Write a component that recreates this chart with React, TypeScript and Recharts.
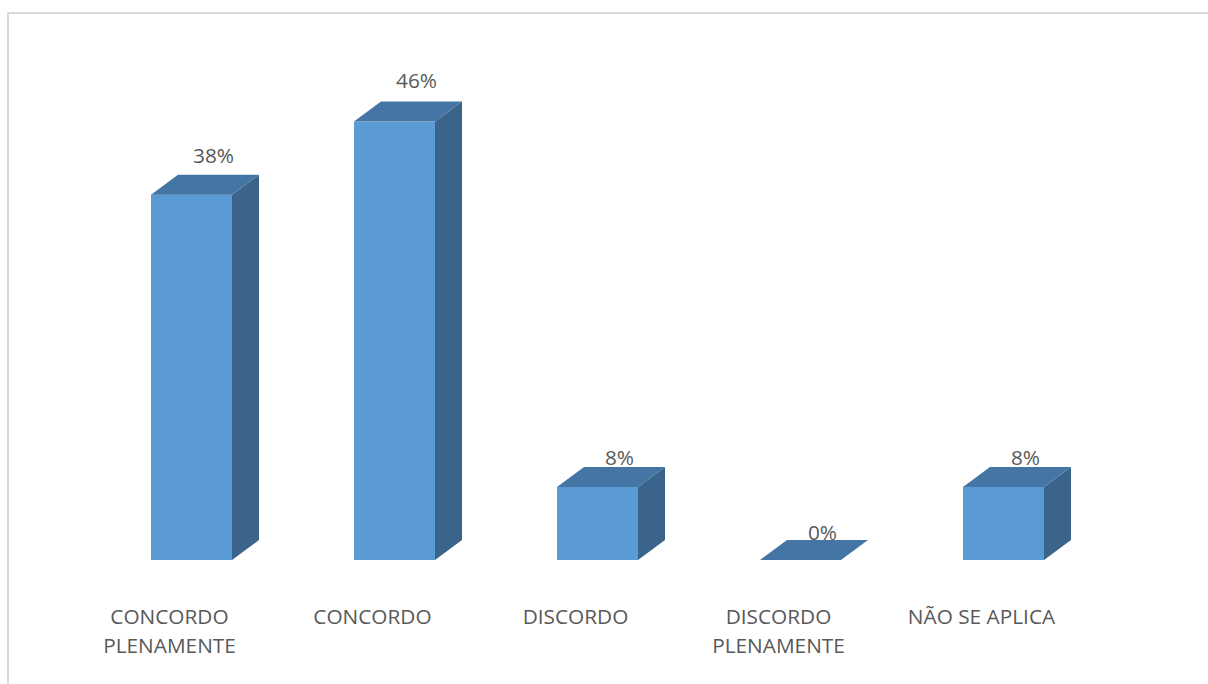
import React from "react";
import { BarChart, Bar, XAxis, YAxis, LabelList } from "recharts";

const categories = ["CONCORDO PLENAMENTE", "CONCORDO", "DISCORDO", "DISCORDO PLENAMENTE", "NÃO SE APLICA"];
const values = [38.46, 46.15, 7.69, 0, 7.69];
const valueLabels = ["38%", "46%", "8%", "0%", "8%"];

const data = categories.map((c, i) => ({ name: c, value: values[i], label: valueLabels[i] }));

const FRONT = "#5B9BD5";
const TOP = "#4475A4";
const SIDE = "#3A6489";
const TEXT = "#595959";
const FONT = "'Open Sans', 'Liberation Sans', Arial, sans-serif";
const DX = 27;
const DY = 20;

const Box3D = (props: any) => {
  const { x, y, width, height } = props;
  const h = Math.max(0, height || 0);
  const x2 = x + width;
  const bottom = y + h;
  return (
    <g>
      {h > 0 && <rect x={x} y={y} width={width} height={h} fill={FRONT} />}
      {h > 0 && (
        <polygon
          points={`${x2},${y} ${x2 + DX},${y - DY} ${x2 + DX},${bottom - DY} ${x2},${bottom}`}
          fill={SIDE}
        />
      )}
      <polygon
        points={`${x},${y} ${x + DX},${y - DY} ${x2 + DX},${y - DY} ${x2},${y}`}
        fill={TOP}
      />
    </g>
  );
};

const wrap = (s: string, maxChars: number) => {
  const words = s.split(" ");
  const lines: string[] = [];
  let cur = "";
  for (const w of words) {
    const t = cur ? cur + " " + w : w;
    if (t.length > maxChars && cur) {
      lines.push(cur);
      cur = w;
    } else cur = t;
  }
  if (cur) lines.push(cur);
  return lines;
};

const CatTick = (props: any) => {
  const { x, y, payload } = props;
  const lines = wrap(String(payload.value), 14);
  return (
    <text x={x - 22} y={y} textAnchor="middle" fill={TEXT} fontFamily={FONT} fontSize={20.8}>
      {lines.map((l, i) => (
        <tspan key={i} x={x - 22} dy={i === 0 ? 56 : 29}>
          {l}
        </tspan>
      ))}
    </text>
  );
};

const ValueLabel = (props: any) => {
  const { x, y, width, index } = props;
  const v = values[index];
  return (
    <text
      x={x + width / 2 + 22}
      y={y - DY - 0.3 * v}
      textAnchor="middle"
      fill={TEXT}
      fontFamily={FONT}
      fontSize={20.8}
    >
      {valueLabels[index]}
    </text>
  );
};

export default function App() {
  return (
    <div style={{ position: "absolute", left: 0, top: 0, width: 1208, height: 684, overflow: "hidden", background: "#fff" }}>
      <div
        style={{
          position: "absolute",
          left: 7,
          top: 12,
          width: 1230,
          height: 700,
          border: "2px solid #d9d9d9",
          boxSizing: "border-box",
        }}
      />
      <div style={{ position: "absolute", left: 0, top: 0 }}>
        <BarChart width={1208} height={684} data={data} margin={{ top: 85, right: 103, left: 90, bottom: 0 }}>
          <XAxis dataKey="name" axisLine={false} tickLine={false} height={124} tick={<CatTick />} interval={0} />
          <YAxis hide domain={[0, 50]} />
          <Bar dataKey="value" barSize={81} shape={<Box3D />} isAnimationActive={false}>
            <LabelList dataKey="label" content={<ValueLabel />} />
          </Bar>
        </BarChart>
      </div>
    </div>
  );
}
